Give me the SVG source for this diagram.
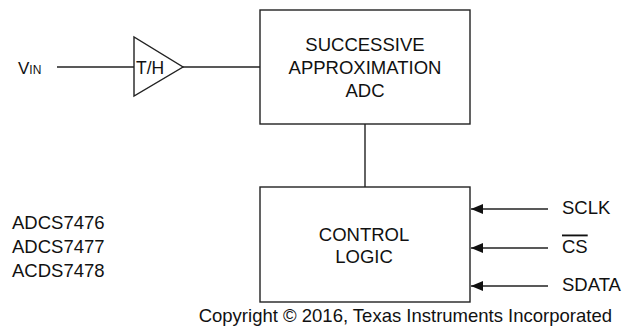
<svg xmlns="http://www.w3.org/2000/svg" width="624" height="333" viewBox="0 0 624 333">
<style>
text{font-family:"Liberation Sans",Arial,sans-serif;font-size:18.5px;fill:#111}
.c{text-anchor:middle}
.box{fill:#fff;stroke:#222;stroke-width:1.4}
.w{stroke:#222;stroke-width:1.4;fill:none}
</style>
<defs>
<marker id="ah" viewBox="0 0 12 10" refX="12" refY="5" markerWidth="12" markerHeight="10" markerUnits="userSpaceOnUse" orient="auto">
<path d="M0,0 L12,5 L0,10 Z" fill="#111"/>
</marker>
</defs>
<rect width="624" height="333" fill="#fff"/>
<g id="connectors">
<line class="w" x1="57" y1="67" x2="134" y2="67"/>
<line class="w" x1="183" y1="67" x2="260" y2="67"/>
<line class="w" x1="365" y1="124" x2="365" y2="187"/>
<line class="w" x1="548" y1="209" x2="471" y2="209" marker-end="url(#ah)"/>
<line class="w" x1="548" y1="248" x2="471" y2="248" marker-end="url(#ah)"/>
<line class="w" x1="548" y1="286" x2="471" y2="286" marker-end="url(#ah)"/>
</g>
<g id="vin">
<text x="18" y="73.5" style="font-size:17px">V<tspan style="font-size:12px">IN</tspan></text>
</g>
<g id="th">
<polygon class="box" points="134,37 134,96 183,67"/>
<text x="136" y="73.5" style="font-size:17.5px">T/H</text>
</g>
<g id="adc">
<rect class="box" x="260" y="10" width="210" height="114"/>
<text class="c" x="365" y="50.5">SUCCESSIVE</text>
<text class="c" x="365" y="74">APPROXIMATION</text>
<text class="c" x="365" y="97">ADC</text>
</g>
<g id="control">
<rect class="box" x="260" y="187" width="210" height="115"/>
<text class="c" x="364" y="241">CONTROL</text>
<text class="c" x="364" y="263">LOGIC</text>
</g>
<g id="sclk"><text x="562" y="214">SCLK</text></g>
<g id="cs"><text x="562" y="252.5" text-decoration="overline">CS</text></g>
<g id="sdata"><text x="562" y="290.5">SDATA</text></g>
<g id="parts">
<text x="12" y="228.5">ADCS7476</text>
<text x="12" y="252.5">ADCS7477</text>
<text x="12" y="276.5">ACDS7478</text>
</g>
<text x="612" y="321.5" style="text-anchor:end">Copyright © 2016, Texas Instruments Incorporated</text>
</svg>
